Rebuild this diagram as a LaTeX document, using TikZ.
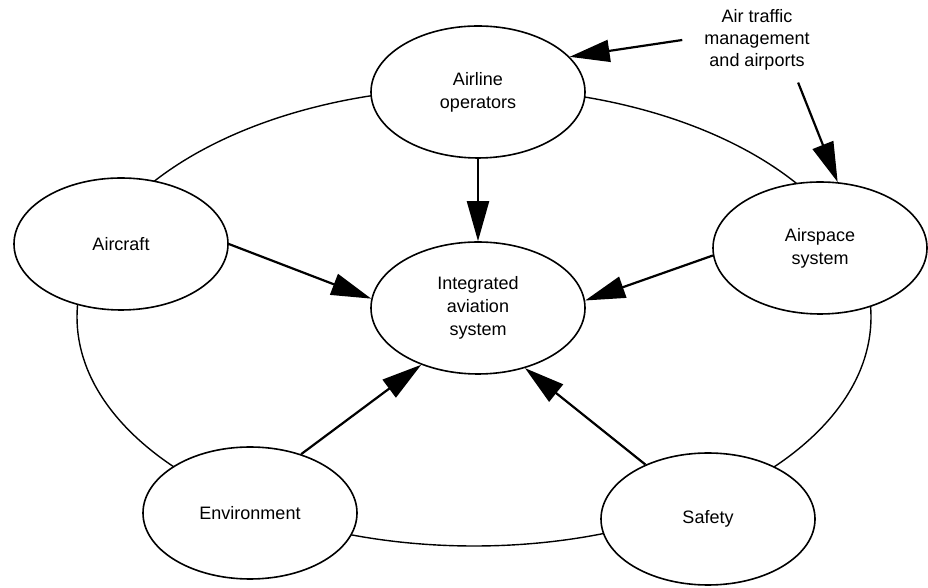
\documentclass[tikz,border=0pt]{standalone}
\usepackage{fontspec}
\setmainfont{Liberation Sans}
\usetikzlibrary{
  shapes.geometric,
  arrows.meta,
  backgrounds
}

\begin{document}
\begin{tikzpicture}[
  x=1pt, y=1pt,
  every node/.style={font=\fontsize{18}{23}\selectfont},
  part/.style={
    ellipse, draw, line width=1.6pt, fill=white,
    minimum width=214pt, minimum height=132pt,
    align=center, inner sep=0pt
  },
  note/.style={
    align=center, inner xsep=22pt, inner ysep=12pt,
    font=\fontsize{18}{22}\selectfont
  },
  arr/.style={-{Triangle[length=40pt,width=22pt]}, line width=2.2pt},
  ring/.style={line width=1.4pt}
]
  \useasboundingbox (0,0) rectangle (928,588);

  % Hub
  \node[part] (ias) at (478,280) {Integrated\\aviation\\system};

  % Parts round the hub
  \node[part] (airline) at (478,496) {Airline\\operators};
  \node[part] (aircraft) at (121,344) {Aircraft};
  \node[part] (airspace) at (820,340) {Airspace\\system};
  \node[part] (env) at (250,75) {Environment};
  \node[part] (safety) at (708,69) {Safety};

  % Outside input
  \node[note] (atm) at (757,548) {Air traffic\\management\\and airports};

  % Ring through the parts
  \begin{scope}[on background layer]
    \draw[ring] (474,271) ellipse [x radius=397, y radius=229];
  \end{scope}

  % Arrows
  \draw[arr] (airline) -- (ias);
  \foreach \from/\to in {aircraft.east/ias.175, airspace.184/ias.4,
                          env.49/ias.225, safety.139/ias.308,
                          atm.west/airline.21, atm.-46/airspace.75} {
    \draw[arr] (\from) -- (\to);
  }
\end{tikzpicture}
\end{document}
